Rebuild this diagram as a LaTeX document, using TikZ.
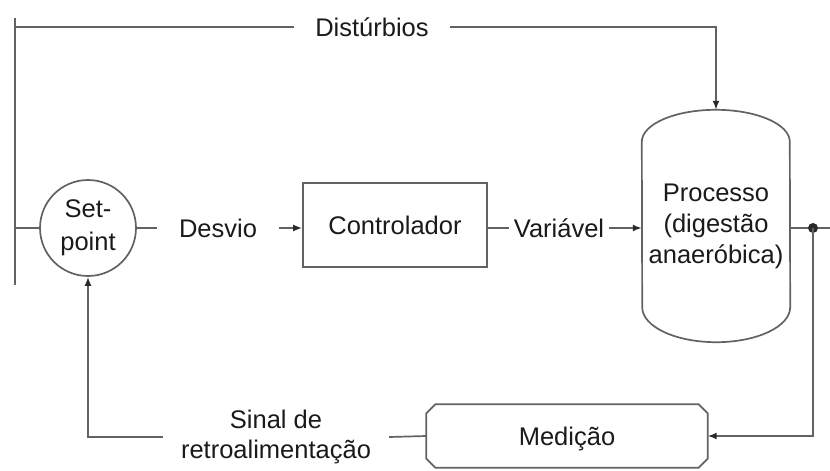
\documentclass[tikz,border=0pt]{standalone}
\usepackage{fontspec}
\setmainfont{Liberation Sans}
\usetikzlibrary{arrows.meta,calc}
\definecolor{lncol}{HTML}{626262}
\definecolor{tipcol}{HTML}{2A2A2A}
\definecolor{txcol}{HTML}{1A1A1A}
\begin{document}
\begin{tikzpicture}[x=1pt,y=-1pt,
  every node/.style={font=\fontsize{25.5}{31}\selectfont, text=txcol},
  ln/.style={draw=lncol, line width=1.7pt},
  arr/.style={ln, -{Latex[length=9pt,width=7pt,color=tipcol]}},
  lbl/.style={inner ysep=0pt, align=center},
  single/.style={text height=18pt, text depth=0pt}]
\useasboundingbox (0,0) rectangle (830,471);

% nodes
\node[circle, ln, minimum size=96pt, inner sep=0pt, align=center,
      font=\fontsize{25.5}{33}\selectfont] (sp) at (88,228) {Set-\\point};
\node[ln, minimum width=184pt, minimum height=84pt, single] (ctrl) at (395,225) {Controlador};
\node[minimum width=148pt, minimum height=232pt, align=center, inner sep=0pt] (proc) at (716,226)
     {Processo\\(digestão\\anaeróbica)};
\node[minimum width=281pt, minimum height=63pt, inner sep=0pt, single] (med) at (567,436) {Medição};

\node[lbl, single, inner xsep=21pt] (dist) at (372,27) {Distúrbios};
\node[lbl, single, inner xsep=22pt] (desv) at (218,228) {Desvio};
\node[lbl, single, inner xsep=5pt] (var) at (559,228) {Variável};
\node[lbl, inner xsep=18pt, font=\fontsize{25.5}{30}\selectfont] (sinal) at (276,437) {Sinal de\\retroalimentação};

% process outline
\draw[ln] ($(proc.north west)+(0,32)$) arc[start angle=180, end angle=0, x radius=74pt, y radius=32pt]
  -- ($(proc.south east)+(0,-35)$) arc[start angle=0, end angle=-180, x radius=74pt, y radius=35pt] -- cycle;

% medicao outline (chamfered)
\draw[ln] ($(med.north west)+(9,0)$) -- ($(med.north east)+(-9,0)$) -- ($(med.north east)+(0,9)$)
  -- ($(med.south east)+(0,-9)$) -- ($(med.south east)+(-9,0)$) -- ($(med.south west)+(9,0)$)
  -- ($(med.south west)+(0,-9)$) -- ($(med.north west)+(0,9)$) -- cycle;

% free ends
\coordinate (lt) at (15,18);
\coordinate (lb) at (15,285);
\coordinate (tl) at (15,27);
\coordinate (j) at (813,228);
\coordinate (out) at (830,228);

% connectors
\draw[ln] (lt) -- (lb);
\draw[ln] (tl) -- (dist.west);
\draw[arr] (dist.east) -| (proc.north);
\draw[ln] (lt |- sp.west) -- (sp.west);
\draw[ln] (sp) -- (desv);
\draw[arr] (desv.east) -- (desv.east -| ctrl.west);
\draw[ln] (ctrl.east |- var.west) -- (var.west);
\draw[arr] (var.east) -- (var.east -| proc.west);
\draw[ln] (proc.east |- j) -- (out);
\fill[tipcol] (j) circle (5pt);
\draw[arr] (j) |- (med.east);
\draw[ln] (med.west) -- (sinal.east);
\draw[arr] (sinal.west) -| (sp.south);
\end{tikzpicture}
\end{document}
